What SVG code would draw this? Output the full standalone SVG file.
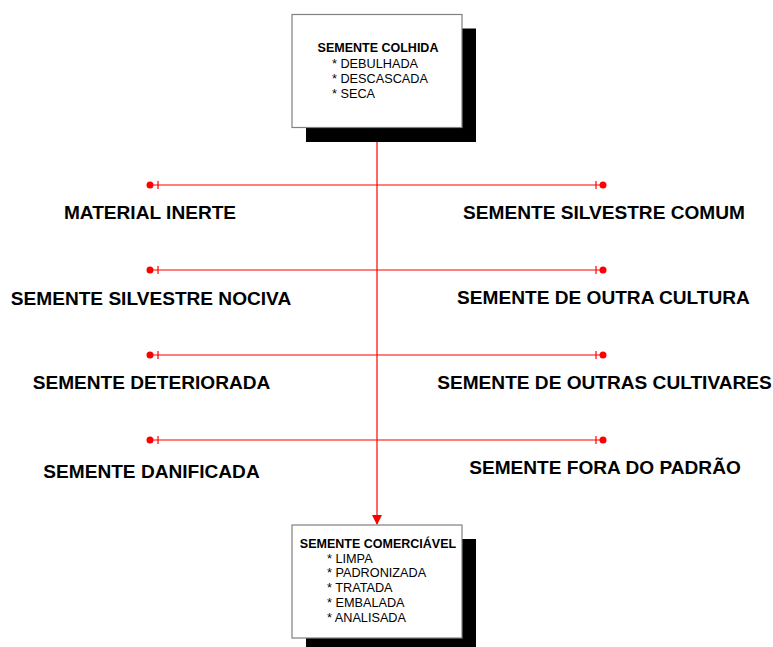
<svg xmlns="http://www.w3.org/2000/svg" width="773" height="647" viewBox="0 0 773 647">
<style>
.box{fill:#fff;stroke:#808080;stroke-width:1.2}
.shadow{fill:#000}
.hd{font-family:"Liberation Sans",Arial,sans-serif;font-weight:bold;font-size:12.5px;fill:#000;text-anchor:middle}
.it{font-family:"Liberation Sans",Arial,sans-serif;font-size:12.7px;fill:#000}
.lbl{font-family:"Liberation Sans",Arial,sans-serif;font-weight:bold;font-size:19.1px;fill:#000;text-anchor:middle}
.ln{stroke:#ff0000;stroke-width:1.2;fill:none}
.dot{fill:#ff0000}
</style>
<defs>
<marker id="arr" markerWidth="10" markerHeight="10" refX="9" refY="5" orient="auto" markerUnits="userSpaceOnUse">
<path d="M0,0 L10,5 L0,10 Z" fill="#ff0000"/>
</marker>
</defs>
<rect width="773" height="647" fill="#fff"/>
<g id="connectors">
<line class="ln" x1="377" y1="128" x2="377" y2="524" marker-end="url(#arr)"/>
<g id="row1">
<line class="ln" x1="150" y1="185" x2="603" y2="185"/>
<line class="ln" x1="158" y1="181" x2="158" y2="189"/>
<line class="ln" x1="596" y1="181" x2="596" y2="189"/>
<circle class="dot" cx="150" cy="185" r="3.5"/>
<circle class="dot" cx="603" cy="185" r="3.5"/>
</g>
<g id="row2">
<line class="ln" x1="150" y1="270" x2="603" y2="270"/>
<line class="ln" x1="158" y1="266" x2="158" y2="274"/>
<line class="ln" x1="596" y1="266" x2="596" y2="274"/>
<circle class="dot" cx="150" cy="270" r="3.5"/>
<circle class="dot" cx="603" cy="270" r="3.5"/>
</g>
<g id="row3">
<line class="ln" x1="150" y1="355" x2="603" y2="355"/>
<line class="ln" x1="158" y1="351" x2="158" y2="359"/>
<line class="ln" x1="596" y1="351" x2="596" y2="359"/>
<circle class="dot" cx="150" cy="355" r="3.5"/>
<circle class="dot" cx="603" cy="355" r="3.5"/>
</g>
<g id="row4">
<line class="ln" x1="150" y1="440" x2="603" y2="440"/>
<line class="ln" x1="158" y1="436" x2="158" y2="444"/>
<line class="ln" x1="596" y1="436" x2="596" y2="444"/>
<circle class="dot" cx="150" cy="440" r="3.5"/>
<circle class="dot" cx="603" cy="440" r="3.5"/>
</g>
</g>
<g id="semente-colhida">
<rect class="shadow" x="306" y="28.5" width="170" height="113.5"/>
<rect class="box" x="292" y="14.5" width="170" height="113"/>
<text class="hd" x="378" y="52">SEMENTE COLHIDA</text>
<text class="it" x="332" y="67.5">* DEBULHADA</text>
<text class="it" x="332" y="82.5">* DESCASCADA</text>
<text class="it" x="332" y="97.5">* SECA</text>
</g>
<g id="semente-comercializavel">
<rect class="shadow" x="306" y="539" width="170" height="113"/>
<rect class="box" x="292" y="525" width="170" height="113"/>
<text class="hd" x="378" y="547.5">SEMENTE COMERCIÁVEL</text>
<text class="it" x="327" y="562.5">* LIMPA</text>
<text class="it" x="327" y="577">* PADRONIZADA</text>
<text class="it" x="327" y="592">* TRATADA</text>
<text class="it" x="327" y="606.5">* EMBALADA</text>
<text class="it" x="327" y="621.5">* ANALISADA</text>
</g>
<g id="material-inerte"><text class="lbl" x="150" y="219">MATERIAL INERTE</text></g>
<g id="semente-silvestre-comum"><text class="lbl" x="604" y="219">SEMENTE SILVESTRE COMUM</text></g>
<g id="semente-silvestre-nociva"><text class="lbl" x="151" y="304.5">SEMENTE SILVESTRE NOCIVA</text></g>
<g id="semente-de-outra-cultura"><text class="lbl" x="603.5" y="304">SEMENTE DE OUTRA CULTURA</text></g>
<g id="semente-deteriorada"><text class="lbl" x="151.5" y="389">SEMENTE DETERIORADA</text></g>
<g id="semente-de-outras-cultivares"><text class="lbl" x="604.5" y="389">SEMENTE DE OUTRAS CULTIVARES</text></g>
<g id="semente-danificada"><text class="lbl" x="151.5" y="478">SEMENTE DANIFICADA</text></g>
<g id="semente-fora-do-padrao"><text class="lbl" x="605" y="474">SEMENTE FORA DO PADRÃO</text></g>
</svg>
